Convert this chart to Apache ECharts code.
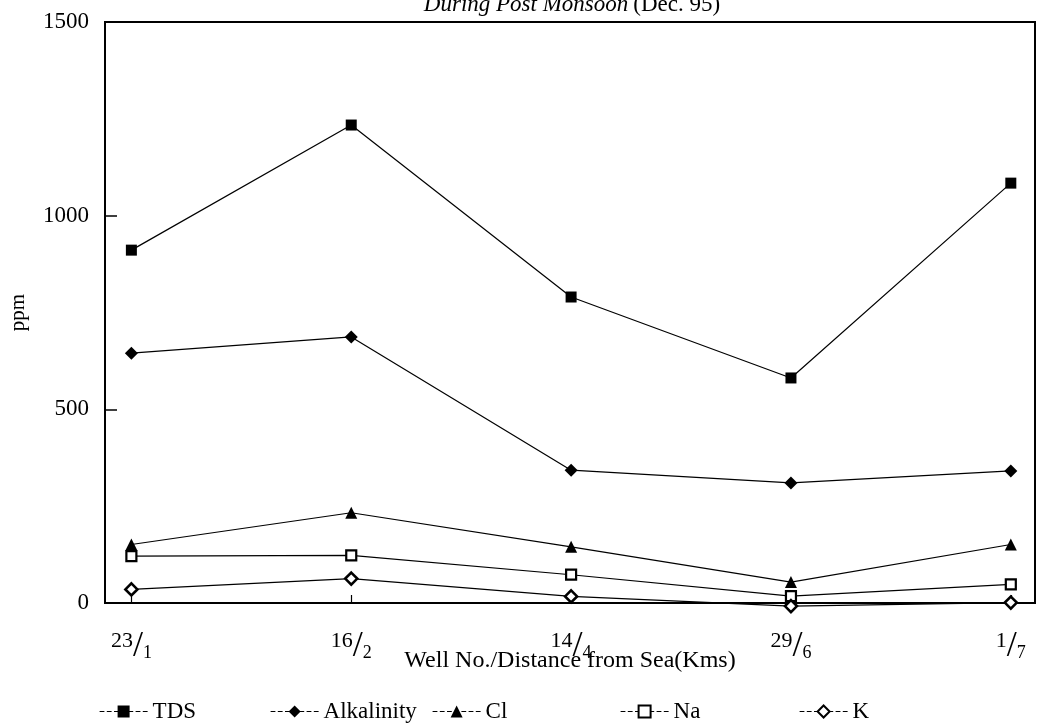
<!DOCTYPE html>
<html>
<head>
<meta charset="utf-8">
<script src="https://cdn.jsdelivr.net/npm/echarts@6/dist/echarts.min.js"></script>
<style>
html,body{margin:0;padding:0;background:#fff;}
#chart{width:1038px;height:725px;}
</style>
</head>
<body>
<div id="chart"></div>
<script>
// ---- data ----
const wellNumbers = ['23', '16', '14', '29', '1'];
const distances = ['1', '2', '4', '6', '7'];
const seriesNames = ['TDS', 'Alkalinity', 'Cl', 'Na', 'K'];
const tds = [911, 1234, 790, 581, 1084];
const alkalinity = [645, 687, 343, 310, 341];
const cl = [151, 233, 145, 54, 151];
const na = [121, 123, 73, 18, 48];
const k = [35, 63, 17, -8, 1];
const yTicks = [0, 500, 1000, 1500];

const FONT = '"Liberation Serif", "DejaVu Serif", serif';
const chart = echarts.init(document.getElementById('chart'));

function pairs(arr) { return arr.map((v, i) => [i, v]); }
const idx = wellNumbers.map((_, i) => i);

const styles = [
  { symbol: 'rect', size: 11, fill: '#000', bw: 0 },
  { symbol: 'diamond', size: 13, fill: '#000', bw: 0 },
  { symbol: 'triangle', size: 12, fill: '#000', bw: 0 },
  { symbol: 'rect', size: 10, fill: '#fff', bw: 2.2 },
  { symbol: 'diamond', size: 12, fill: '#fff', bw: 2.6 }
];
const values = [tds, alkalinity, cl, na, k];

const series = seriesNames.map((name, i) => ({
  name: name,
  type: 'line',
  data: pairs(values[i]),
  symbol: styles[i].symbol,
  symbolSize: styles[i].size,
  showAllSymbol: true,
  clip: false,
  lineStyle: { color: '#000', width: 1.2 },
  itemStyle: { color: styles[i].fill, borderColor: '#000', borderWidth: styles[i].bw },
  emphasis: { disabled: true },
  z: 3
}));

const legendPos = [94, 265, 427, 615, 794];
const legends = seriesNames.map((name, i) => ({
  data: [name],
  left: legendPos[i],
  top: 695,
  itemWidth: 48,
  itemHeight: 15,
  itemGap: 0,
  textStyle: { fontFamily: FONT, fontSize: 23, color: '#000' },
  lineStyle: { type: 'dashed', width: 1.2, color: '#000' },
  selectedMode: false
}));

chart.setOption({
  animation: false,
  backgroundColor: '#fff',
  title: {
    text: '{i|During Post Monsoon} {n|(Dec. 95)}',
    left: 567,
    textAlign: 'center',
    top: -12,
    textStyle: {
      fontWeight: 'normal',
      rich: {
        i: { fontFamily: FONT, fontSize: 23, fontStyle: 'italic', fontWeight: 'normal', color: '#000' },
        n: { fontFamily: FONT, fontSize: 23, fontWeight: 'normal', color: '#000' }
      }
    }
  },
  legend: legends,
  grid: {
    left: 104, right: 3, top: 22, bottom: 122,
    show: true, borderColor: '#000', borderWidth: 2, backgroundColor: 'transparent'
  },
  xAxis: {
    type: 'value',
    min: -0.12,
    max: 4.11,
    splitLine: { show: false },
    axisLine: { show: true, onZero: false, lineStyle: { color: '#000', width: 2 } },
    axisTick: { show: true, inside: true, length: 8, customValues: idx, lineStyle: { color: '#000', width: 1.2 } },
    axisLabel: {
      customValues: idx,
      margin: 26,
      formatter: function (v) {
        const i = Math.round(v);
        return '{n|' + wellNumbers[i] + '}{s|/}{d|' + distances[i] + '}';
      },
      rich: {
        n: { fontFamily: FONT, fontSize: 22, color: '#000', padding: [0, 0, 12, 0] },
        s: { fontFamily: FONT, fontSize: 36, color: '#000' },
        d: { fontFamily: FONT, fontSize: 18, color: '#000', padding: [12, 0, 0, 0] }
      }
    },
    name: 'Well No./Distance from Sea(Kms)',
    nameLocation: 'middle',
    nameGap: 46,
    nameMoveOverlap: false,
    nameTextStyle: { fontFamily: FONT, fontSize: 24, color: '#000' }
  },
  yAxis: {
    type: 'value',
    min: 0,
    max: 1500,
    interval: 500,
    splitLine: { show: false },
    axisLine: { show: true, onZero: false, lineStyle: { color: '#000', width: 2 } },
    axisTick: { show: true, inside: true, length: 12, lineStyle: { color: '#000', width: 1.5 } },
    axisLabel: {
      margin: 16,
      fontFamily: FONT, fontSize: 23, color: '#000',
      formatter: function (v) { return yTicks.indexOf(v) >= 0 ? String(v) : ''; }
    },
    name: 'ppm',
    nameLocation: 'middle',
    nameGap: 76,
    nameMoveOverlap: false,
    nameTextStyle: { fontFamily: FONT, fontSize: 21, color: '#000' }
  },
  series: series
});
</script>
</body>
</html>
